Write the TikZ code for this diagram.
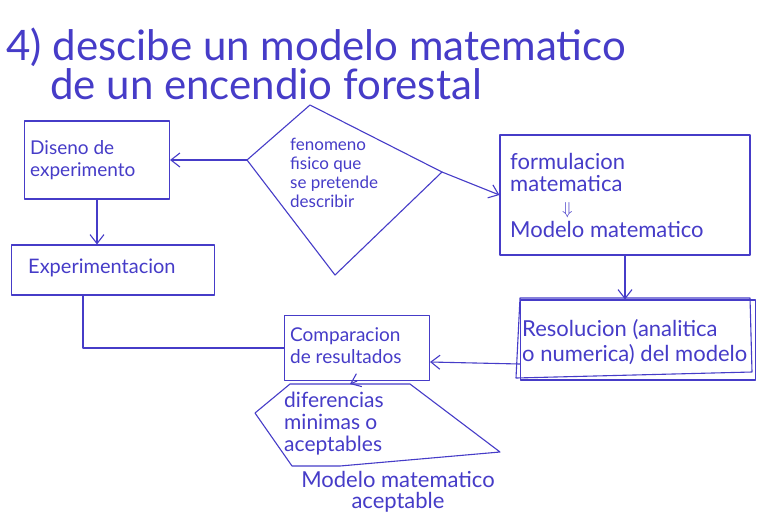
\documentclass[tikz,border=0pt]{standalone}
\usepackage{fontspec}
\setmainfont{Lato}
\usetikzlibrary{shapes.geometric,arrows.meta}
\definecolor{ink}{RGB}{70,60,200}
\tikzset{
  ink/.style={draw=ink,line width=1.1pt,line join=round,line cap=round},
  boxnode/.style={ink,rectangle,inner sep=4pt,text=ink,align=left},
  arr/.style={ink,-{Straight Barb[length=9pt,width=14pt]}},
  lbl/.style={text=ink,align=left,inner sep=0pt}
}
\begin{document}
\begin{tikzpicture}[x=1pt,y=-1pt]
\useasboundingbox (0,0) rectangle (757,517);
\fill[white] (0,0) rectangle (757,517);
% title
\node[lbl,anchor=base west,font=\fontsize{42}{46}\selectfont] (t1) at (6,60) {4) descibe un modelo matematico};
\node[lbl,anchor=base west,font=\fontsize{42}{46}\selectfont] (t2) at (50,99) {de un encendio forestal};
% Diseno
\node[boxnode,minimum width=145pt,minimum height=78pt] (dis) at (97,160) {};
\node[lbl,anchor=north west,font=\fontsize{19}{22}\selectfont] (distx) at (30,140) {Diseno de\\experimento};
% fenomeno (diamond)
\coordinate (fenL) at (247,160);
\coordinate (fenT) at (310,105);
\coordinate (fenR) at (442,172);
\coordinate (fenB) at (335,275);
\draw[ink] (fenL) -- (fenT) -- (fenR) -- (fenB) -- cycle;
\node[lbl,anchor=north west,font=\fontsize{17}{19}\selectfont] (fen) at (290,138) {fenomeno\\fisico que\\se pretende\\describir};
% formulacion
\node[boxnode,minimum width=250pt,minimum height=120pt] (form) at (625,195) {};
\node[lbl,anchor=north west,font=\fontsize{22}{22}\selectfont] (formtx) at (510,153) {formulacion\\matematica\\[1pt]\hspace*{52pt}{\fontsize{16}{16}\selectfont$\Downarrow$}\\[1pt]Modelo matematico};
% experimentacion
\node[boxnode,minimum width=203pt,minimum height=50pt] (exp) at (113,270) {};
\node[lbl,anchor=west,font=\fontsize{20}{22}\selectfont] (exptx) at (28,268) {Experimentacion};
% comparacion
\node[boxnode,minimum width=145pt,minimum height=65pt] (cmp) at (357,348) {};
\node[lbl,anchor=west,font=\fontsize{19}{22}\selectfont] (cmptx) at (290,346) {Comparacion\\de resultados};
% resolucion
\node[boxnode,minimum width=235pt,minimum height=80pt] (res) at (638,340) {};
\draw[ink] (520,298) -- (750,298) -- (752,372) -- (516,378) -- cycle;
\node[lbl,anchor=west,font=\fontsize{22}{25}\selectfont] (restx) at (522,342) {Resolucion (analitica\\o numerica) del modelo};
% diferencias
\node[lbl,anchor=north west,font=\fontsize{21}{22}\selectfont] (dif) at (284,392) {diferencias\\minimas o\\aceptables};
\coordinate (diftop) at (350,384);
\draw[ink] (255,413) -- (290,384) -- (410,384) -- (500,452) -- (340,466) -- (292,466) -- cycle;
\node[lbl,align=center,font=\fontsize{22}{21}\selectfont] (acc) at (398,492) {Modelo matematico\\aceptable};
% connectors
\draw[arr] (fenL) -- (dis.east);
\draw[arr] (fenR) -- (form.west);
\draw[arr] (dis.south) -- (dis.south |- exp.north);
\draw[ink] ([xshift=-30pt]exp.south) |- (cmp.west);
\draw[arr] (form.south) -- (form.south |- res.north);
\draw[arr] ([yshift=-24pt]res.west) -- ([yshift=-14pt]cmp.east);
\draw[arr] (cmp.south) -- (diftop);
\end{tikzpicture}
\end{document}
